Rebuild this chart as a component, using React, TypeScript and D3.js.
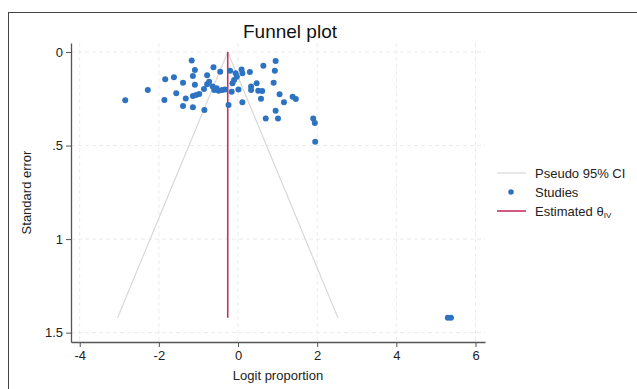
import React, { useRef, useEffect } from "react";
import * as d3 from "d3";

// study estimates (logit proportion, standard error)
const studyX = [
  -2.85, -2.28, -1.86, -1.84, -1.62, -1.56, -1.39, -1.39, -1.32, -1.17, -1.14, -1.14, -1.09, -1.09, -1.14,
  -1.06, -0.98, -0.85, -0.86, -0.78, -0.78, -0.73, -0.62, -0.64, -0.6, -0.54, -0.49, -0.45, -0.4, -0.33,
  -0.24, -0.2, -0.16, -0.14, -0.1, -0.06, -0.03, 0.01, 0.09, 0.11, 0.11, 0.3, 0.33, 0.33, 0.47, 0.51,
  0.58, 0.61, 0.64, 0.7, 0.9, 0.93, 0.95, 0.95, 1.01, 1.05, 1.16, 1.38, 1.46, 1.9, 1.94, 1.95, 5.3, 5.38,
];
const studySE = [
  0.258, 0.203, 0.257, 0.146, 0.135, 0.221, 0.164, 0.289, 0.248, 0.046, 0.128, 0.296, 0.096, 0.175, 0.235,
  0.23, 0.225, 0.31, 0.198, 0.125, 0.173, 0.159, 0.082, 0.185, 0.203, 0.194, 0.207, 0.105, 0.203, 0.2,
  0.283, 0.1, 0.212, 0.167, 0.15, 0.114, 0.132, 0.2, 0.093, 0.114, 0.269, 0.107, 0.185, 0.203, 0.167, 0.207,
  0.25, 0.209, 0.073, 0.355, 0.164, 0.1, 0.048, 0.314, 0.355, 0.226, 0.269, 0.239, 0.251, 0.355, 0.38, 0.48,
  1.42, 1.42,
];

const theta = -0.26; // estimated theta IV
const maxSE = 1.42;
const xTicks = [-4, -2, 0, 2, 4, 6];
const xTickLabels = ["-4", "-2", "0", "2", "4", "6"];
const yTicks = [0, 0.5, 1, 1.5];
const yTickLabels = ["0", ".5", "1", "1.5"];
const legendLabels = ["Pseudo 95% CI", "Studies", "Estimated θ"];

const W = 637;
const H = 389;
const font = "Liberation Sans, Arial, sans-serif";

const App = () => {
  const svgRef = useRef<SVGSVGElement>(null);

  useEffect(() => {
    const svg = d3.select(svgRef.current);
    svg.selectAll("*").remove();

    const left = 71, right = 485, top = 43, bottom = 342;

    const x = d3.scaleLinear().domain([-4.22, 6.24]).range([left, right]);
    const y = d3.scaleLinear().domain([-0.048, 1.55]).range([top, bottom]);

    svg.append("rect").attr("width", W).attr("height", H).attr("fill", "#fff");

    // outer frame
    svg
      .append("rect")
      .attr("x", 8.5)
      .attr("y", 12.5)
      .attr("width", 700)
      .attr("height", 500)
      .attr("fill", "none")
      .attr("stroke", "#444")
      .attr("stroke-width", 1);

    // gridlines
    svg
      .append("g")
      .selectAll("line")
      .data(xTicks)
      .enter()
      .append("line")
      .attr("x1", (d) => x(d))
      .attr("x2", (d) => x(d))
      .attr("y1", top)
      .attr("y2", bottom)
      .attr("stroke", "#ebebeb")
      .attr("stroke-dasharray", "4,3");

    svg
      .append("g")
      .selectAll("line")
      .data(yTicks)
      .enter()
      .append("line")
      .attr("x1", left)
      .attr("x2", right)
      .attr("y1", (d) => y(d))
      .attr("y2", (d) => y(d))
      .attr("stroke", "#ebebeb")
      .attr("stroke-dasharray", "4,3");

    // pseudo 95% CI funnel
    const half = 1.96 * maxSE;
    const funnel = d3
      .line<[number, number]>()
      .x((d) => x(d[0]))
      .y((d) => y(d[1]));
    svg
      .append("path")
      .attr(
        "d",
        funnel([
          [theta - half, maxSE],
          [theta, 0],
          [theta + half, maxSE],
        ])
      )
      .attr("fill", "none")
      .attr("stroke", "#d8d8d8")
      .attr("stroke-width", 1.2);

    // estimated theta line
    svg
      .append("line")
      .attr("x1", x(theta))
      .attr("x2", x(theta))
      .attr("y1", y(0))
      .attr("y2", y(maxSE))
      .attr("stroke", "#c9305f")
      .attr("stroke-width", 1.6);

    // studies
    svg
      .append("g")
      .selectAll("circle")
      .data(studyX)
      .enter()
      .append("circle")
      .attr("cx", (d) => x(d))
      .attr("cy", (d, i) => y(studySE[i]))
      .attr("r", 3)
      .attr("fill", "#2e73c2");

    // axes
    const xAxis = svg
      .append("g")
      .attr("transform", `translate(0,${bottom})`)
      .call(
        d3
          .axisBottom(x)
          .tickValues(xTicks)
          .tickFormat((d, i) => xTickLabels[i])
          .tickSize(5)
          .tickSizeOuter(0)
          .tickPadding(4)
      );
    const yAxis = svg
      .append("g")
      .attr("transform", `translate(${left},0)`)
      .call(
        d3
          .axisLeft(y)
          .tickValues(yTicks)
          .tickFormat((d, i) => yTickLabels[i])
          .tickSize(5)
          .tickSizeOuter(0)
          .tickPadding(3)
      );
    [xAxis, yAxis].forEach((g) => {
      g.select(".domain").attr("stroke", "#555").attr("stroke-width", 1.3);
      g.selectAll(".tick line").attr("stroke", "#555");
      g.selectAll("text").attr("font-family", font).attr("font-size", 13).attr("fill", "#222");
    });

    // titles
    svg
      .append("text")
      .attr("x", 290)
      .attr("y", 38)
      .attr("text-anchor", "middle")
      .attr("font-family", font)
      .attr("font-size", 19)
      .attr("fill", "#111")
      .text("Funnel plot");

    svg
      .append("text")
      .attr("x", (left + right) / 2)
      .attr("y", 380)
      .attr("text-anchor", "middle")
      .attr("font-family", font)
      .attr("font-size", 13)
      .attr("fill", "#222")
      .text("Logit proportion");

    svg
      .append("text")
      .attr("transform", `translate(31,${(top + bottom) / 2}) rotate(-90)`)
      .attr("text-anchor", "middle")
      .attr("font-family", font)
      .attr("font-size", 13)
      .attr("fill", "#222")
      .text("Standard error");

    // legend
    const lg = svg.append("g").attr("font-family", font).attr("font-size", 13).attr("fill", "#222");
    const ly = [173, 192, 211];
    lg.append("line").attr("x1", 497).attr("x2", 526).attr("y1", ly[0]).attr("y2", ly[0]).attr("stroke", "#d8d8d8").attr("stroke-width", 1.2);
    lg.append("circle").attr("cx", 511).attr("cy", ly[1]).attr("r", 2.8).attr("fill", "#2e73c2");
    lg.append("line").attr("x1", 497).attr("x2", 526).attr("y1", ly[2]).attr("y2", ly[2]).attr("stroke", "#c9305f").attr("stroke-width", 1.6);
    legendLabels.forEach((t, i) => {
      const txt = lg.append("text").attr("x", 535).attr("y", ly[i] + 4.5).text(t);
      if (i === 2) txt.append("tspan").attr("font-size", 8).attr("dy", 2).text("IV");
    });
  }, []);

  return (
    <div style={{ position: "absolute", left: 0, top: 0 }}>
      <svg ref={svgRef} width={W} height={H} style={{ display: "block" }}></svg>
    </div>
  );
};

export default App;
